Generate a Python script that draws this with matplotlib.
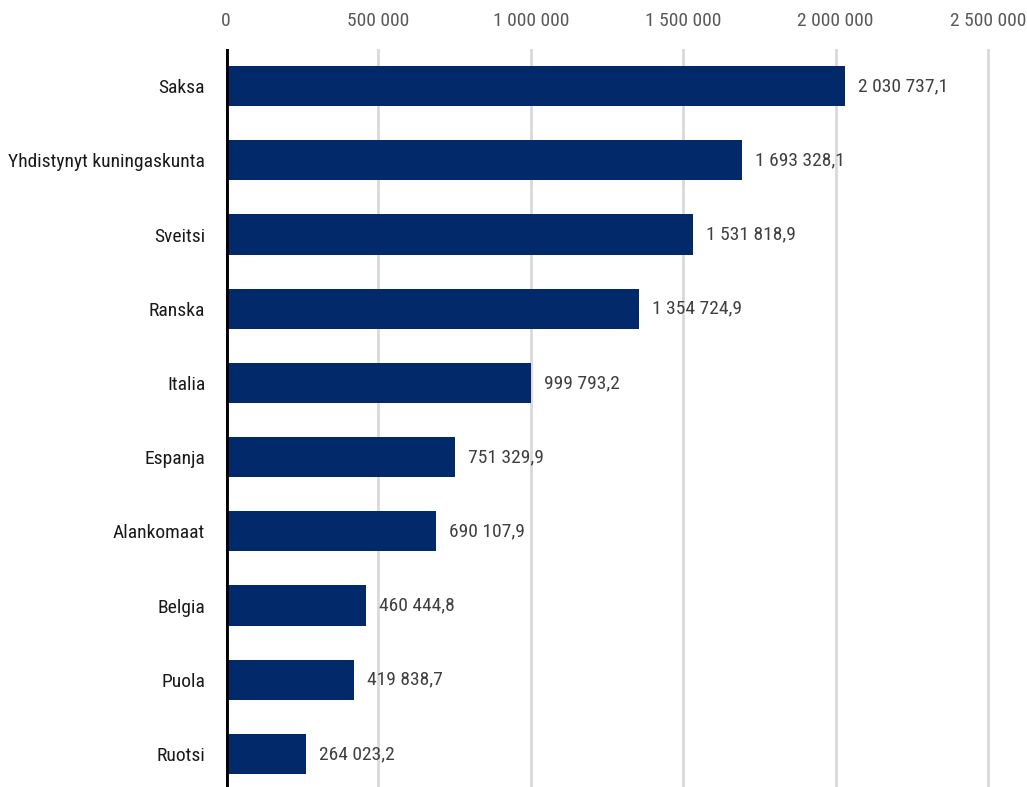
import matplotlib
matplotlib.use('Agg')
import matplotlib.pyplot as plt
from matplotlib.ticker import FuncFormatter

countries = ['Saksa', 'Yhdistynyt kuningaskunta', 'Sveitsi', 'Ranska', 'Italia',
             'Espanja', 'Alankomaat', 'Belgia', 'Puola', 'Ruotsi']
values = [2030737.1, 1693328.1, 1531818.9, 1354724.9, 999793.2,
          751329.9, 690107.9, 460444.8, 419838.7, 264023.2]
ticks = [0, 500000, 1000000, 1500000, 2000000, 2500000]

plt.rcParams['font.family'] = ['Roboto Condensed', 'Open Sans Condensed', 'DejaVu Sans']
plt.rcParams['font.stretch'] = 'condensed'


def fi_int(v, pos=None):
    return '{:,.0f}'.format(v).replace(',', ' ')


def fi_dec(v):
    return '{:,.1f}'.format(v).replace(',', ' ').replace('.', ',')


fig = plt.figure(figsize=(10.27, 7.87), dpi=100)
ax = fig.add_axes([226 / 1027, 0, 1 - 226 / 1027, (787 - 49) / 787])

pos = list(range(len(countries)))
ax.barh(pos, values, height=0.54, color='#022a6b', zorder=3)
for p, v in zip(pos, values):
    ax.text(v + 42000, p, fi_dec(v), va='center', ha='left',
            fontsize=14, color='#404040')

ax.set_xlim(0, 2628000)
ax.set_ylim(9.446, -0.5)
ax.set_xticks(ticks)
ax.xaxis.set_major_formatter(FuncFormatter(fi_int))
ax.xaxis.tick_top()
ax.tick_params(axis='x', length=0, pad=14, labelsize=14, labelcolor='#595959')
ax.set_yticks(pos)
ax.set_yticklabels(countries)
ax.tick_params(axis='y', length=0, pad=15, labelsize=14, labelcolor='#1a1a1a')

ax.grid(axis='x', color='#d9d9d9', linewidth=2, zorder=0)
for s in ax.spines.values():
    s.set_visible(False)
ax.axvline(0, color='black', linewidth=3.5, zorder=4)

fig.savefig('out.png', dpi=100)
